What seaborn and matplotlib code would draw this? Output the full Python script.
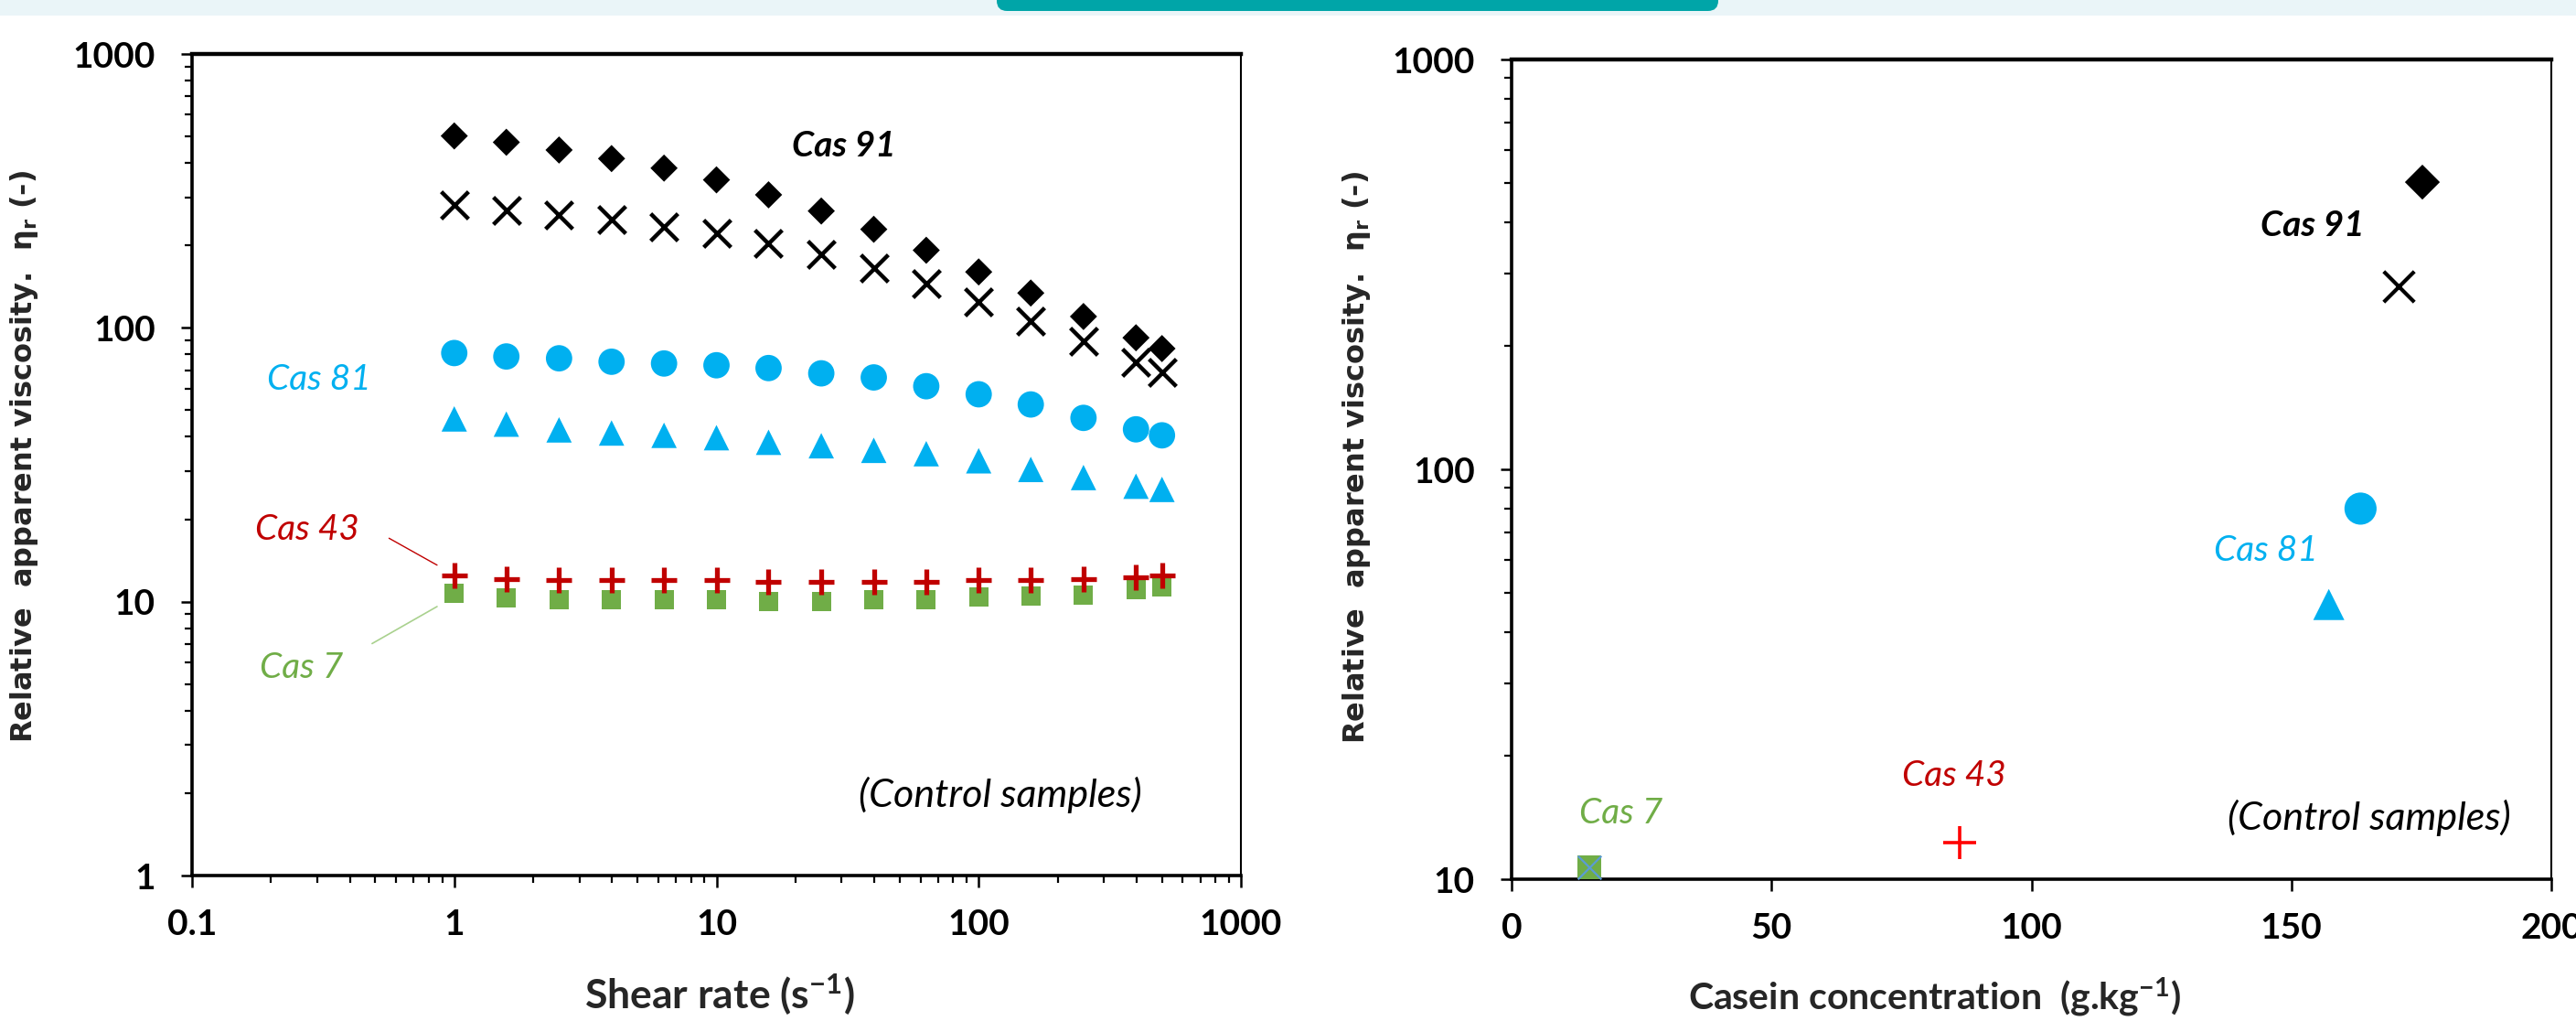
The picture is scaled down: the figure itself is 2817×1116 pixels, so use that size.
import numpy as np
import pandas as pd
import matplotlib
matplotlib.use("Agg")
import matplotlib.pyplot as plt
import seaborn as sns
from matplotlib.patches import Rectangle, FancyBboxPatch
from matplotlib.ticker import FixedLocator, FixedFormatter, LogLocator, NullFormatter, NullLocator

# ---------------- data: left panel (flow curves) ----------------
shear_rate = [1, 1.58, 2.51, 3.98, 6.31, 10, 15.8, 25.1, 39.8, 63.1, 100, 158, 251, 398, 500]
cas91_diamond = [502, 476, 446, 415, 383, 347, 306, 267, 229, 192, 160, 134, 110, 92, 84]
cas91_cross = [280, 269, 259, 248, 234, 221, 204, 186, 165, 145, 124, 106, 89, 75, 69]
cas81_circle = [80.9, 78.6, 77.4, 75.2, 74.1, 73.0, 71.3, 68.2, 65.9, 61.2, 57.2, 52.5, 46.9, 42.6, 40.5]
cas81_triangle = [46.5, 44.5, 42.4, 41.3, 40.5, 39.7, 38.2, 37.1, 35.7, 34.7, 32.7, 30.4, 28.4, 26.4, 25.7]
cas43_plus = [12.5, 12.1, 12.0, 12.0, 12.0, 12.0, 11.8, 11.8, 11.8, 11.8, 12.0, 12.0, 12.1, 12.3, 12.5]
cas7_square = [10.7, 10.3, 10.2, 10.2, 10.2, 10.2, 10.0, 10.0, 10.2, 10.2, 10.4, 10.5, 10.6, 11.1, 11.3]

# ---------------- data: right panel (viscosity vs casein concentration) ----------------
right_series = ["Cas 91 (a)", "Cas 91 (b)", "Cas 81 (a)", "Cas 81 (b)", "Cas 43", "Cas 7"]
casein_conc = [175.2, 170.6, 163.3, 157.2, 86.2, 14.9]
right_visc = [502, 279, 80.2, 46.8, 12.3, 10.7]

xticks_left = [0.1, 1, 10, 100, 1000]
xticklabels_left = ["0.1", "1", "10", "100", "1000"]
yticks_left = [1, 10, 100, 1000]
yticklabels_left = ["1", "10", "100", "1000"]
xticks_right = [0, 50, 100, 150, 200]
xticklabels_right = ["0", "50", "100", "150", "200"]
yticks_right = [10, 100, 1000]
yticklabels_right = ["10", "100", "1000"]

BLACK = "#000000"
CYAN = "#00B0F0"
GREEN = "#70AD47"
DRED = "#C00000"
RED = "#FF0000"
BLUEX = "#5B9BD5"

sns.set_style("white")
plt.rcParams["font.family"] = ["Lato", "DejaVu Sans"]
plt.rcParams["mathtext.default"] = "regular"

W, H = 2817, 1116
fig = plt.figure(figsize=(W / 100, H / 100), dpi=100)
fig.patch.set_facecolor("white")

# header band
fig.patches.append(Rectangle((0, 1 - 17 / H), 1, 17 / H, transform=fig.transFigure,
                             facecolor="#EAF5F8", edgecolor="none", zorder=0))
fig.patches.append(FancyBboxPatch((1090 / W, 1 - 12 / H), (1879 - 1090) / W, 40 / H,
                                  boxstyle="round,pad=0,rounding_size=0.004",
                                  transform=fig.transFigure, facecolor="#00A5A8",
                                  edgecolor="none", zorder=1, mutation_aspect=2.5))

axL = fig.add_axes([210 / W, 1 - 957 / H, (1357 - 210) / W, (957 - 59) / H])
axR = fig.add_axes([1653 / W, 1 - 961 / H, (2790 - 1653) / W, (961 - 65) / H])


def scat(ax, x, y, marker, s, color, lw=0, z=3):
    kw = dict(marker=marker, s=s, color=color, ax=ax, zorder=z, legend=False)
    if marker in ("x", "+"):
        kw["linewidth"] = lw
    else:
        kw["edgecolor"] = "none"
    sns.scatterplot(x=x, y=y, **kw)


# ---------------- left panel ----------------
scat(axL, shear_rate, cas91_diamond, "D", 230, BLACK)
scat(axL, shear_rate, cas91_cross, "x", 460, BLACK, lw=3.2, z=4)
scat(axL, shear_rate, cas81_circle, "o", 430, CYAN)
scat(axL, shear_rate, cas81_triangle, "^", 400, CYAN)
scat(axL, shear_rate, cas7_square, "s", 230, GREEN)
scat(axL, shear_rate, cas43_plus, "+", 420, DRED, lw=3.8, z=4)

axL.set_xscale("log")
axL.set_yscale("log")
axL.set_xlim(0.1, 1000)
axL.set_ylim(1, 1000)

# ---------------- right panel ----------------
right_style = [("D", 380, BLACK, 0), ("x", 580, BLACK, 3.0), ("o", 640, CYAN, 0),
               ("^", 600, CYAN, 0), ("+", 640, RED, 2.6), ("s", 340, GREEN, 0)]
for i, (m, s, c, lw) in enumerate(right_style):
    scat(axR, [casein_conc[i]], [right_visc[i]], m, s, c, lw=lw)
# thin blue cross drawn on the Cas 7 square
scat(axR, [casein_conc[5]], [right_visc[5]], "x", 340, BLUEX, lw=1.6, z=5)

axR.set_yscale("log")
axR.set_xlim(0, 200)
axR.set_ylim(10, 1000)

# ---------------- axes styling ----------------
for ax, xt, xtl, yt, ytl, logx in [
    (axL, xticks_left, xticklabels_left, yticks_left, yticklabels_left, True),
    (axR, xticks_right, xticklabels_right, yticks_right, yticklabels_right, False),
]:
    ax.set_facecolor("white")
    ax.grid(False)
    ax.xaxis.set_major_locator(FixedLocator(xt))
    ax.xaxis.set_major_formatter(FixedFormatter(xtl))
    ax.yaxis.set_major_locator(FixedLocator(yt))
    ax.yaxis.set_major_formatter(FixedFormatter(ytl))
    if logx:
        ax.xaxis.set_minor_locator(LogLocator(base=10, subs=np.arange(2, 10)))
        ax.xaxis.set_minor_formatter(NullFormatter())
    else:
        ax.xaxis.set_minor_locator(NullLocator())
    ax.yaxis.set_minor_locator(LogLocator(base=10, subs=np.arange(2, 10)))
    ax.yaxis.set_minor_formatter(NullFormatter())
    ax.tick_params(axis="both", which="major", direction="out", length=9, width=1.8,
                   color=BLACK, labelcolor=BLACK, bottom=True, left=True)
    ax.tick_params(axis="both", which="minor", direction="out", length=5.5, width=1.6,
                   color=BLACK, bottom=True, left=True)
    ax.tick_params(axis="x", which="major", pad=17)
    ax.tick_params(axis="y", which="major", pad=20)
    for lab in ax.get_xticklabels() + ax.get_yticklabels():
        lab.set_fontsize(28)
        lab.set_fontweight("bold")
    for side in ("left", "bottom"):
        ax.spines[side].set_linewidth(2.6)
        ax.spines[side].set_color(BLACK)
    ax.spines["top"].set_linewidth(3.2)
    ax.spines["top"].set_color(BLACK)
    ax.spines["right"].set_linewidth(1.5)
    ax.spines["right"].set_color(BLACK)
    for sp in ax.spines.values():
        sp.set_visible(True)

ylab = "Relative  apparent viscosity.  η$_\\mathregular{r}$ (-)"
for ax, xc, yc in [(axL, -0.16, 0.51), (axR, -0.149, 0.515)]:
    ax.set_ylabel(ylab, fontsize=23, fontweight="bold", family="DejaVu Sans", va="center")
    ax.yaxis.set_label_coords(xc, yc)

axL.set_xlabel("Shear rate (s$^{-1}$)", fontsize=32, fontweight="bold", va="center")
axR.set_xlabel("Casein concentration  (g.kg$^{-1}$)", fontsize=29.5, fontweight="bold", va="center")
axL.xaxis.set_label_coords(0.503, -0.145)
axR.xaxis.set_label_coords(0.407, -0.144)

# ---------------- annotations ----------------
ann = dict(style="italic", ha="center", va="center")
axL.text(30.7, 460, "Cas 91", color=BLACK, fontweight="bold", fontsize=28, **ann)
axL.text(0.305, 64.7, "Cas 81", color=CYAN, fontsize=28, **ann)
axL.text(0.275, 18.3, "Cas 43", color=DRED, fontsize=28, **ann)
axL.text(0.262, 5.73, "Cas 7", color=GREEN, fontsize=28, **ann)
axL.text(121, 1.97, "(Control samples)", color=BLACK, fontsize=31, **ann)
axL.annotate("", xy=(0.86, 13.6), xytext=(0.564, 17.05),
             arrowprops=dict(arrowstyle="-", color=DRED, lw=1.0, shrinkA=0, shrinkB=0))
axL.annotate("", xy=(0.86, 9.6), xytext=(0.486, 7.03),
             arrowprops=dict(arrowstyle="-", color="#A9D18E", lw=1.2, shrinkA=0, shrinkB=0))

axR.text(154.1, 394, "Cas 91", color=BLACK, fontweight="bold", fontsize=28, **ann)
axR.text(145.1, 63.4, "Cas 81", color=CYAN, fontsize=28, **ann)
axR.text(85.2, 17.9, "Cas 43", color=DRED, fontsize=28, **ann)
axR.text(21.0, 14.5, "Cas 7", color=GREEN, fontsize=28, **ann)
axR.text(165.0, 14.1, "(Control samples)", color=BLACK, fontsize=31, **ann)

fig.savefig("out.png", dpi=100, facecolor="white")
